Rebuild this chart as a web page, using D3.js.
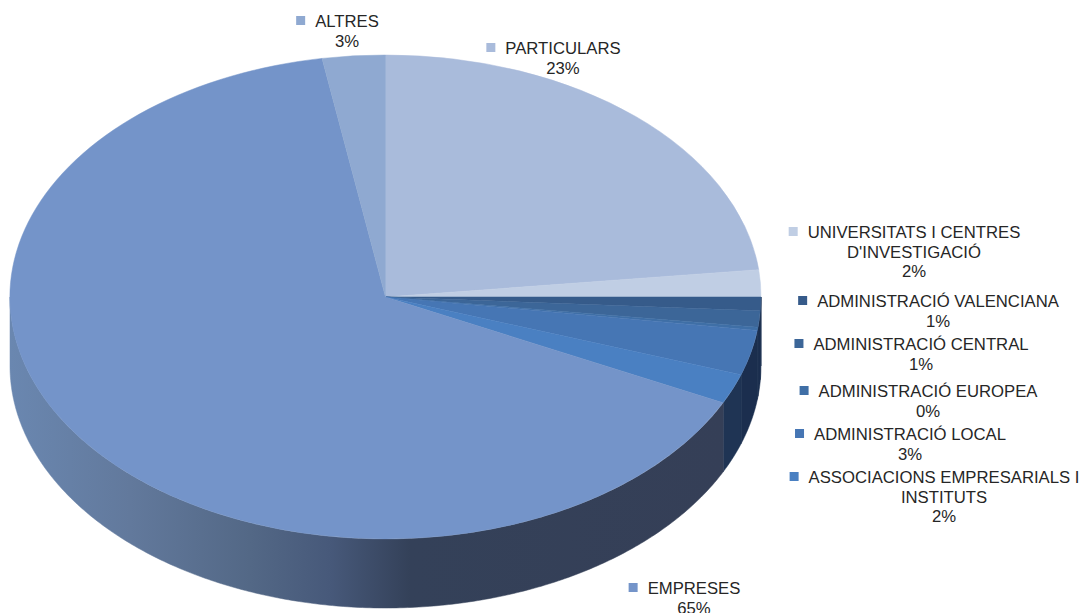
<!DOCTYPE html>
<html>
<head>
  <meta charset="utf-8">
  <title>Pie 3D</title>
  <script src="https://d3js.org/d3.v7.min.js"></script>
  <style>
    body { margin: 0; background: #fff; }
    svg { display: block; }
    text { font-family: "Liberation Sans", Arial, sans-serif; font-size: 16.7px; fill: #262626; text-anchor: middle; }
  </style>
</head>
<body>
  <div id="chart"></div>
  <script type="text/javascript">
    // clockwise from 12 o'clock, same order as the slices in the picture
    var categories = ["PARTICULARS", "UNIVERSITATS I CENTRES D'INVESTIGACIÓ", "ADMINISTRACIÓ VALENCIANA",
      "ADMINISTRACIÓ CENTRAL", "ADMINISTRACIÓ EUROPEA", "ADMINISTRACIÓ LOCAL",
      "ASSOCIACIONS EMPRESARIALS I INSTITUTS", "EMPRESES", "ALTRES"];
    var shares = [23.2, 1.8, 0.9, 1.1, 0.2, 3.0, 2.0, 65.1, 2.7];
    var topColors = ["#a9bbdb", "#c0cee4", "#365b8a", "#3c6698", "#3f6fa6", "#4676b4", "#4a80c2", "#7494c9", "#8fa9d1"];
    var labelLines = [["PARTICULARS"], ["UNIVERSITATS I CENTRES", "D'INVESTIGACIÓ"], ["ADMINISTRACIÓ VALENCIANA"],
      ["ADMINISTRACIÓ CENTRAL"], ["ADMINISTRACIÓ EUROPEA"], ["ADMINISTRACIÓ LOCAL"],
      ["ASSOCIACIONS EMPRESARIALS I", "INSTITUTS"], ["EMPRESES"], ["ALTRES"]];

    // label placement: centre x and first baseline
    var labelX = [563, 914, 938, 921, 928, 910, 944, 694, 347];
    var labelY = [54, 238, 307, 350, 397, 440, 483, 594, 27];

    var width = 1083, height = 613;
    var cx = 385.5, cy = 297, rx = 375.5, ry = 242, depth = 69;

    var svg = d3.select("#chart").append("svg")
      .attr("width", width)
      .attr("height", height);

    var defs = svg.append("defs");
    var wallStops = [[10, "#6a87b0"], [130, "#62799c"], [250, "#536886"], [330, "#47597a"], [410, "#344159"], [725, "#353f57"]];
    var wallGrad = defs.append("linearGradient")
      .attr("id", "wallGrad")
      .attr("gradientUnits", "userSpaceOnUse")
      .attr("x1", 10).attr("x2", 725).attr("y1", 0).attr("y2", 0);
    wallGrad.selectAll("stop").data(wallStops).enter().append("stop")
      .attr("offset", function (d) { return (d[0] - 10) / 715; })
      .attr("stop-color", function (d) { return d[1]; });

    var pie = d3.pie().sort(null).value(function (d) { return d; });
    var slices = pie(shares);

    function wallColor(i) {
      if (i == 7 || i == 8) return "url(#wallGrad)";
      return i == 6 ? "#1f3454" : "#1b2e4e";
    }

    // side wall, only the front half of the ellipse can be seen
    var edgeX = function (a) { return cx + rx * Math.sin(a); };
    var edgeY = function (a) { return cy - ry * Math.cos(a); };
    var wallLine = d3.line();
    svg.append("g").selectAll("path")
      .data(slices.filter(function (d) { return d.endAngle > Math.PI / 2 && d.startAngle < 3 * Math.PI / 2; }))
      .enter().append("path")
      .attr("d", function (d) {
        var a0 = Math.max(d.startAngle, Math.PI / 2);
        var a1 = Math.min(d.endAngle, 3 * Math.PI / 2);
        var angles = d3.range(a0, a1, 0.01).concat([a1]);
        var upper = angles.map(function (a) { return [edgeX(a), edgeY(a)]; });
        var lower = angles.slice().reverse().map(function (a) { return [edgeX(a), edgeY(a) + depth]; });
        return wallLine(upper.concat(lower)) + "Z";
      })
      .attr("fill", function (d) { return wallColor(d.index); })
      .attr("stroke", function (d) { return wallColor(d.index); })
      .attr("stroke-width", 0.5);

    // top face: unit circle squashed into the ellipse
    var arc = d3.arc().innerRadius(0).outerRadius(1);
    svg.append("g")
      .attr("transform", "translate(" + cx + "," + cy + ") scale(" + rx + "," + ry + ")")
      .selectAll("path")
      .data(slices)
      .enter().append("path")
      .attr("d", arc)
      .attr("fill", function (d, i) { return topColors[i]; })
      .attr("stroke", function (d, i) { return topColors[i]; })
      .attr("stroke-width", 0.5)
      .attr("vector-effect", "non-scaling-stroke");

    var fmt = d3.format(".0f");
    var lineHeight = 19.7;
    var labels = svg.append("g").selectAll("g")
      .data(categories)
      .enter().append("g");

    labels.each(function (d, i) {
      var g = d3.select(this);
      var lines = labelLines[i].concat([fmt(shares[i]) + "%"]);
      var first;
      lines.forEach(function (t, j) {
        var node = g.append("text")
          .attr("x", labelX[i])
          .attr("y", labelY[i] + j * lineHeight)
          .text(t);
        if (j == 0) first = node;
      });
      var left = labelX[i] - first.node().getComputedTextLength() / 2;
      g.append("rect")
        .attr("x", left - 19)
        .attr("y", labelY[i] - 11)
        .attr("width", 9)
        .attr("height", 9)
        .attr("fill", topColors[i]);
    });
  </script>
</body>
</html>
